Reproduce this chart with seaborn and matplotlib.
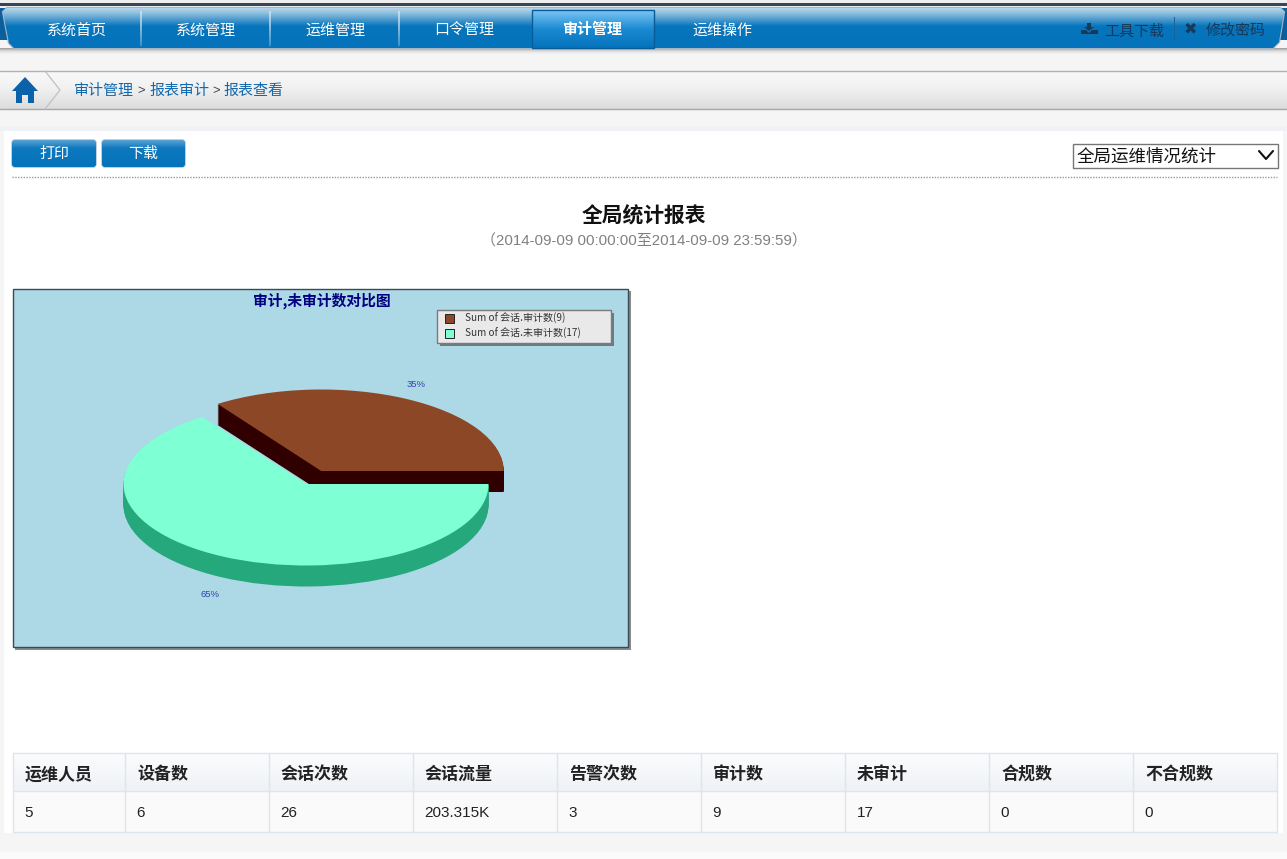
import numpy as np
import matplotlib
matplotlib.use("Agg")
import matplotlib.pyplot as plt
from matplotlib.patches import Rectangle, FancyBboxPatch, Polygon
import seaborn as sns

# ---- data ----
pie_labels = ["Sum of 会话.审计数(9)", "Sum of 会话.未审计数(17)"]
pie_values = [9, 17]
nav_labels = ["系统首页", "系统管理", "运维管理", "口令管理", "审计管理", "运维操作"]
nav_centers = [77, 206, 335, 464, 593, 722]
crumbs = ["审计管理", "报表审计", "报表查看"]
table_headers = ["运维人员", "设备数", "会话次数", "会话流量", "告警次数", "审计数", "未审计", "合规数", "不合规数"]
table_values = ["5", "6", "26", "203.315K", "3", "9", "17", "0", "0"]
table_edges = [13, 125, 269, 413, 557, 701, 845, 989, 1133, 1277]
title = "全局统计报表"
subtitle = "（2014-09-09 00:00:00至2014-09-09 23:59:59）"
chart_title = "审计,未审计数对比图"

sns.set_theme(style="white")
CJK = ["Noto Sans CJK SC", "DejaVu Sans"]
LAT = ["Liberation Sans", "Noto Sans CJK SC", "DejaVu Sans"]
plt.rcParams["font.family"] = CJK

W, H = 1287, 859
top_colors = sns.color_palette(["#8B4726", "#7FFFD4"])
side_colors = sns.color_palette(["#300000", "#25A87B"])

fig = plt.figure(figsize=(W / 100, H / 100), dpi=100, facecolor="#f5f5f5")
page = fig.add_axes([0, 0, 1, 1], zorder=1)
page.set_axis_off()


def px(size):
    return size * 0.72


def rect(x0, y0, x1, y1, color, z=1, **kw):
    r = Rectangle((x0, y0), x1 - x0, y1 - y0, facecolor=color, edgecolor=kw.pop("ec", "none"),
                  linewidth=kw.pop("lw", 0), zorder=z, **kw)
    page.add_patch(r)
    return r


def grad(x0, y0, x1, y1, stops, z=2, clip=None):
    c = np.array([matplotlib.colors.to_rgb(s) for _, s in stops])
    pos = [p for p, _ in stops]
    t = np.linspace(0, 1, 64)
    img = np.stack([np.interp(t, pos, c[:, i]) for i in range(3)], axis=1)[:, None, :]
    im = page.imshow(img, extent=(x0, x1, y1, y0), aspect="auto", zorder=z, interpolation="bilinear")
    if clip is not None:
        im.set_clip_path(clip)
    return im


def txt(x, y, s, size, color="#222222", ha="center", z=6, **kw):
    # y is the visual middle of the line; a baseline anchor keeps strings level
    page.text(x, y + size * 0.36, s, fontsize=px(size), color=color, ha=ha, va="baseline", zorder=z, **kw)


# ---- page bands ----
rect(0, 0, W, H, "#f5f5f5", 0)
rect(0, 0, W, 3, "#eeeeee", 1)
rect(0, 3, W, 6, "#34465a", 1)
rect(0, 6, W, 40, "#f0f0f0", 0.5)
rect(0, 8, 8, 40, "#0a5f9c", 1)
rect(1279, 8, W, 40, "#0a5f9c", 1)
rect(0, 126, W, 131, "#eff1f5", 1)
rect(4, 131, 1283, 833, "#ffffff", 1)
rect(0, 852, W, 859, "#fbfbfb", 1)

# ---- nav bar ----
grad(0, 48, W, 54, [(0, "#9a9a9a"), (0.5, "#dddddd"), (1, "#f5f5f5")], z=1.5)
bar = Polygon([(7, 8), (1280, 8), (1284, 12), (1279, 42), (1273, 48), (14, 48), (9, 43), (3, 12)],
              closed=True, facecolor="#0473BB", edgecolor="#a4b6c4", linewidth=1.6, zorder=2)
page.add_patch(bar)
grad(3, 8, 1284, 48, [(0, "#b4d5ea"), (0.12, "#8ec0df"), (0.45, "#0775BC"), (1, "#0473BB")], z=2.2, clip=bar)
for x in [141, 270, 399]:
    grad(x - 0.8, 11, x + 0.8, 46, [(0, "#c9e0ef"), (1, "#3f91c6")], z=2.5)
grad(532, 10, 655, 48, [(0, "#7cc6f5"), (0.5, "#1b8ad2"), (1, "#0473BB")], z=2.6)
page.add_patch(Rectangle((532, 10), 122, 38, fill=False, edgecolor="#0a5c98", linewidth=1, zorder=2.7))
for name, cx in zip(nav_labels, nav_centers):
    active = name == "审计管理"
    txt(cx, 29, name, 15, "white", fontweight="bold" if active else "normal")
page.add_patch(Polygon([(1081, 34), (1081, 30), (1086, 30), (1089, 33), (1092, 30), (1098, 30), (1098, 34)],
                       facecolor="#17395a", edgecolor="none", zorder=5))
page.add_patch(Polygon([(1087, 23), (1091, 23), (1091, 27), (1094, 27), (1089, 31), (1084, 27), (1087, 27)],
                       facecolor="#17395a", edgecolor="none", zorder=5))
txt(1134, 30, "工具下载", 15, "#17395a")
rect(1173.5, 17, 1174.5, 40, "#1e6397", 5)
txt(1190, 28, "✖", 16, "#17395a", family="DejaVu Sans")
txt(1236, 30, "修改密码", 15, "#17395a")

# ---- breadcrumb ----
grad(0, 71, W, 109, [(0, "#f9f9f9"), (0.45, "#f1f1f1"), (1, "#dcdcdc")], z=1.5)
page.plot([0, W], [71, 71], color="#b0b0b0", lw=1, zorder=3)
page.plot([0, W], [109, 109], color="#a8a8a8", lw=1, zorder=3)
page.plot([45, 60, 45], [71, 90, 109], color="#c4c4c4", lw=1, zorder=3)
page.add_patch(Polygon([(25, 77), (38, 91), (34, 91), (34, 103), (28, 103), (28, 95), (22, 95), (22, 103),
                        (16, 103), (16, 91), (12, 91)], facecolor="#0a62aa", edgecolor="none", zorder=4))
for s, x in zip(crumbs, [103.5, 179, 253.5]):
    txt(x, 90, s, 15, "#1268ad")
txt(141.5, 89, ">", 13, "#444444", family=LAT)
txt(216, 89, ">", 13, "#444444", family=LAT)

# ---- toolbar ----
for x0, x1, s in [(12, 96, "打印"), (102, 185, "下载")]:
    b = FancyBboxPatch((x0, 140), x1 - x0, 27, boxstyle="round,pad=0,rounding_size=3", facecolor="#0473BB",
                       edgecolor="#a9bccb", linewidth=1, zorder=3)
    page.add_patch(b)
    grad(x0, 140, x1, 167, [(0, "#5aa2d2"), (0.3, "#0d78bd"), (1, "#0473BB")], z=3.2, clip=b)
    txt((x0 + x1) / 2, 153, s, 15, "white")
page.add_patch(Rectangle((1072.5, 143.5), 205, 24, facecolor="white", edgecolor="#767676", linewidth=1, zorder=3))
txt(1077, 155, "全局运维情况统计", 17.5, "#111111", ha="left")
page.plot([1259, 1266, 1273], [151, 159, 151], color="#111111", lw=1.5, zorder=5)
page.plot([12, 1277], [177, 177], color="#999999", lw=1, ls=(0, (1, 1)), zorder=3)

# ---- titles ----
txt(644, 215, title, 20.8, "#111111", fontweight="bold")
txt(644, 240, subtitle, 15, "#808080", family=LAT)

# ---- chart frame ----
rect(15, 291, 631, 650, "#8a8a8a", 2)
rect(12.5, 288.5, 627.5, 646.5, "#ADD8E6", 2.5, ec="#3a4a52", lw=1)
txt(321.5, 300, chart_title, 14.8, "#000080", fontweight="bold")
rect(440, 313, 614, 346, "#6f7a80", 3)
rect(437, 310, 611, 343, "#e9e9e9", 3.1, ec="#7a7a7a", lw=1)
for y, c, s in zip([318, 333.5], top_colors, pie_labels):
    rect(445, y - 4.5, 454, y + 4.5, c, 3.2, ec="#222222", lw=0.7)
    txt(465, y, s, 10, "#333333", ha="left")
share = np.array(pie_values) / sum(pie_values)
txt(416, 384, f"{share[0]:.0%}", 9.5, "#3344aa", family=LAT)
txt(210, 594, f"{share[1]:.0%}", 9.5, "#3344aa", family=LAT)

# ---- table ----
tx0, tx1 = table_edges[0], table_edges[-1]
grad(tx0, 753, tx1, 791, [(0, "#fbfcfd"), (1, "#eff2f6")], z=2)
rect(tx0, 791, tx1, 832, "#fafafa", 2)
for y in [753, 791, 832]:
    page.plot([tx0, tx1], [y, y], color="#dde5ef", lw=1, zorder=3)
for x in table_edges:
    page.plot([x, x], [753, 832], color="#dde5ef", lw=1, zorder=3)
for x, h, v in zip(table_edges, table_headers, table_values):
    txt(x + 12, 773, h, 17, "#222222", ha="left", fontweight="bold")
    txt(x + 11.5, 812, v, 15.2, "#222222", ha="left", family=LAT)

page.set_xlim(0, W)
page.set_ylim(H, 0)

# ---- pie (extruded ellipse built from stacked pies) ----
cx, cy, a, b = 306, 484, 182.5, 81.5
LIM = 1.25
pie_ax = fig.add_axes([(cx - LIM * a) / W, 1 - (cy + LIM * b) / H, 2 * LIM * a / W, 2 * LIM * b / H],
                      zorder=2)
pie_ax.patch.set_alpha(0)
depth_px = 21
explode = [0.18, 0]
wp = dict(linewidth=0)


def layer(colors, dy):
    w, _ = pie_ax.pie(pie_values, colors=colors, explode=explode, startangle=0, counterclock=True,
                      radius=1, center=(0, -dy / b), wedgeprops=wp)
    return w


for d in range(depth_px, 0, -1):
    layer([side_colors[0], (0, 0, 0, 0)], d)
layer([top_colors[0], (0, 0, 0, 0)], 0)
for d in range(depth_px, 0, -1):
    layer([(0, 0, 0, 0), side_colors[1]], d)
layer([(0, 0, 0, 0), top_colors[1]], 0)
pie_ax.set_aspect("auto")
pie_ax.set_xlim(-LIM, LIM)
pie_ax.set_ylim(-LIM, LIM)
pie_ax.set_axis_off()
sns.despine(ax=pie_ax, left=True, bottom=True)

fig.savefig("out.png", dpi=100, facecolor=fig.get_facecolor())
